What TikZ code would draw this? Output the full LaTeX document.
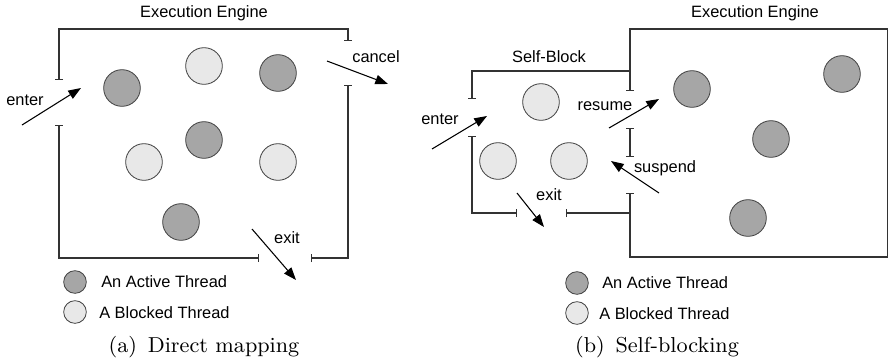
\documentclass[tikz,border=0pt]{standalone}
\usepackage{fontspec}
\setsansfont{Liberation Sans}
\newfontfamily\capfont{lmroman9-regular}[Extension=.otf]
\usetikzlibrary{arrows.meta}

\begin{document}
\begin{tikzpicture}[x=0.75pt,y=-0.75pt,
  frame/.style={draw=black!80, line width=0.8pt},
  gates/.style={frame, {Bar[width=6pt]}-{Bar[width=6pt]}},
  gateend/.style={frame, -{Bar[width=6pt]}},
  gatestart/.style={frame, {Bar[width=6pt]}-},
  flow/.style={draw=black, line width=0.8pt, -{Triangle[length=9.5pt,width=7pt]}},
  thread/.style={circle, draw=black!75, line width=0.6pt, inner sep=0pt, minimum size=27.5pt},
  active/.style={thread, fill=black!35},
  blocked/.style={thread, fill=black!9},
  keythread/.style={minimum size=17pt},
  lbl/.style={font=\sffamily\fontsize{12.3}{14}\selectfont, inner sep=0pt},
  captiontext/.style={font=\capfont\fontsize{16.2}{19}\selectfont, inner sep=0pt}
]
\useasboundingbox (0,0) rectangle (889,362);

% ---------------- (a) Direct mapping ----------------
\node[lbl] (eeA) at (204,13) {Execution Engine};

% engine boundary with its three openings
\draw[gates] (59,80) -- (59,29) -- (348,29) -- (348,41);
\draw[gates] (59,125) -- (59,258) -- (259,258);
\draw[gates] (311,258) -- (348,258) -- (348,85);

% threads
\node[active]  (a1) at (122,88)  {};
\node[blocked] (a2) at (204,66)  {};
\node[active]  (a3) at (278,73)  {};
\node[active]  (a4) at (204,140) {};
\node[blocked] (a5) at (144,162) {};
\node[blocked] (a6) at (278,162) {};
\node[active]  (a7) at (181,222) {};

% transitions
\coordinate (aEnterS)  at (22,125);
\coordinate (aEnterE)  at (81,88);
\coordinate (aCancelS) at (327,61);
\coordinate (aCancelE) at (388,84);
\coordinate (aExitS)   at (252,229);
\coordinate (aExitE)   at (296,280);
\draw[flow] (aEnterS) -- (aEnterE);
\draw[flow] (aCancelS) -- (aCancelE);
\draw[flow] (aExitS) -- (aExitE);
\node[lbl] (aEnter)  at (25,100)  {enter};
\node[lbl] (aCancel) at (376,57)  {cancel};
\node[lbl] (aExit)   at (287,238) {exit};

% legend
\node[active, keythread]  (ka1) at (75,282) {};
\node[blocked, keythread] (ka2) at (75,312) {};
\node[lbl, anchor=west] (kta1) at (101,282) {An Active Thread};
\node[lbl, anchor=west] (kta2) at (99,313)  {A Blocked Thread};

\node[captiontext] (capA) at (204,347) {(a)\enspace Direct mapping};

% ---------------- (b) Self-blocking ----------------
\node[lbl] (eeB) at (755,13) {Execution Engine};
\node[lbl] (sb)  at (549,57) {Self-Block};

% engine boundary
\draw[gates] (630,91) -- (630,29) -- (887.6,29) -- (887.6,257) -- (630,257) -- (630,193);
\draw[gates] (630,128) -- (630,157);
% self-block region
\draw[gateend] (630,71) -- (472,71) -- (472,99);
\draw[gates] (472,136) -- (472,213) -- (517,213);
\draw[gatestart] (566,213) -- (630,213);

% threads
\node[blocked] (b1) at (541,102) {};
\node[blocked] (b2) at (498,161) {};
\node[blocked] (b3) at (569,161) {};
\node[active]  (b4) at (692,89)  {};
\node[active]  (b5) at (842,74)  {};
\node[active]  (b6) at (771,139) {};
\node[active]  (b7) at (748,218) {};

% transitions
\coordinate (bEnterS)   at (432,149);
\coordinate (bEnterE)   at (487,116);
\coordinate (bResumeS)  at (609,128);
\coordinate (bResumeE)  at (659,99);
\coordinate (bSuspendS) at (659,193);
\coordinate (bSuspendE) at (611,161);
\coordinate (bExitS)    at (517,193);
\coordinate (bExitE)    at (544,227);
\draw[flow] (bEnterS) -- (bEnterE);
\draw[flow] (bResumeS) -- (bResumeE);
\draw[flow] (bSuspendS) -- (bSuspendE);
\draw[flow] (bExitS) -- (bExitE);
\node[lbl] (bEnter)   at (440,119) {enter};
\node[lbl] (bResume)  at (605,106) {resume};
\node[lbl] (bSuspend) at (665,168) {suspend};
\node[lbl] (bExit)    at (549,195) {exit};

% legend
\node[active, keythread]  (kb1) at (577,283) {};
\node[blocked, keythread] (kb2) at (577,313) {};
\node[lbl, anchor=west] (ktb1) at (602,283) {An Active Thread};
\node[lbl, anchor=west] (ktb2) at (599,314) {A Blocked Thread};

\node[captiontext] (capB) at (657,347) {(b)\enspace Self-blocking};
\end{tikzpicture}
\end{document}
